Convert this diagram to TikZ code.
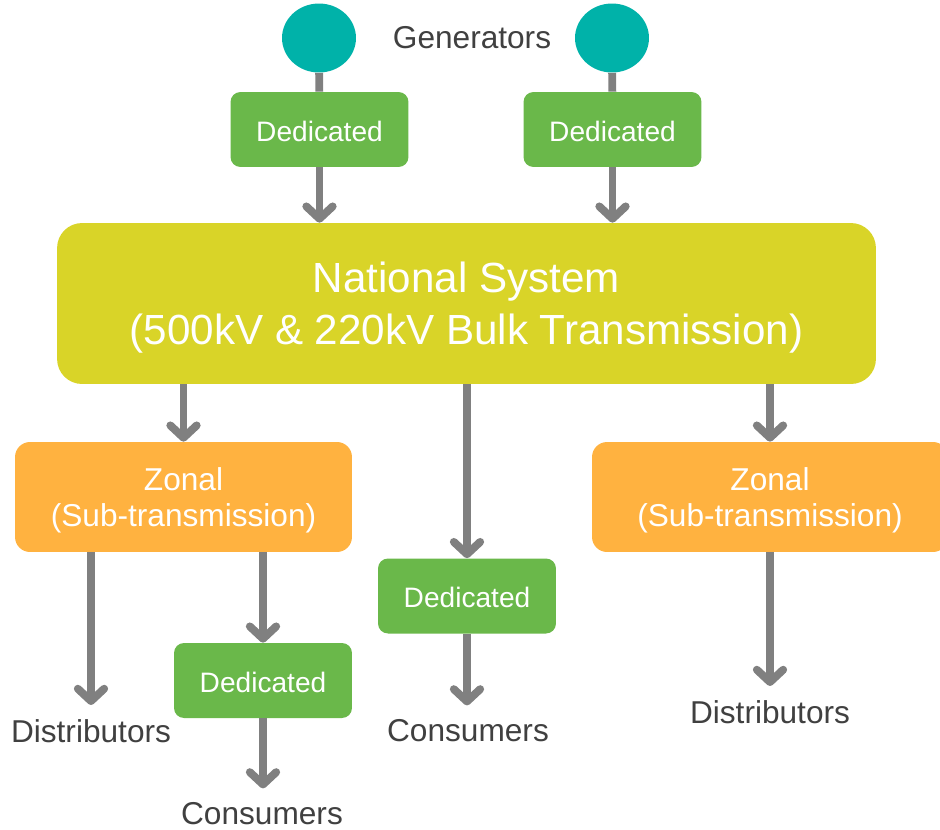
\documentclass[tikz,border=0pt]{standalone}
\usepackage{fontspec}
\setmainfont{Liberation Sans}
\usetikzlibrary{arrows.meta, shapes.geometric}

\definecolor{gencyan}{HTML}{00B2A9}
\definecolor{dedgreen}{HTML}{6AB84A}
\definecolor{natyellow}{HTML}{D9D428}
\definecolor{zoneorange}{HTML}{FFB240}
\definecolor{flowgray}{HTML}{808080}
\definecolor{labelgray}{HTML}{404040}

\tikzset{
  box/.style={rectangle, text=white, inner sep=0pt, align=center, text depth=0pt},
  dedbox/.style={box, fill=dedgreen, rounded corners=0.2cm, minimum width=3.56cm, minimum height=1.5cm, text height=13.4pt, font=\fontsize{16}{19}\selectfont},
  natbox/.style={box, fill=natyellow, rounded corners=0.5cm, minimum width=16.38cm, minimum height=3.22cm, font=\fontsize{24}{29.5}\selectfont},
  zonebox/.style={box, fill=zoneorange, rounded corners=0.3cm, minimum height=2.2cm, font=\fontsize{18}{21}\selectfont},
  gen/.style={ellipse, fill=gencyan, minimum width=1.48cm, minimum height=1.38cm, inner sep=0pt},
  lbl/.style={text=labelgray, inner sep=8pt, font=\fontsize{18}{21}\selectfont},
  link/.style={draw=flowgray, line width=4.5pt},
  flow/.style={link, -{Straight Barb[round, length=7pt, width=15pt]}}
}

\begin{document}
\begin{tikzpicture}[x=0.02cm, y=-0.02cm]
        \useasboundingbox (0,0) rectangle (940,829);
        % generators on top
        \node[gen] (gen1) at (319,38) {};
        \node[gen] (gen2) at (612,38) {};
        \node[lbl] (genlbl) at (472,38) {Generators};
        \node[dedbox] (ded1) at (319.5,129.5) {Dedicated};
        \node[dedbox] (ded2) at (612.5,129.5) {Dedicated};
        % bulk system
        \node[natbox] (natl) at (466.5,303.5) {National System\\(500kV \& 220kV Bulk Transmission)};
        % zonal and dedicated below
        \node[zonebox, minimum width=6.74cm] (zone1) at (183.5,497) {Zonal\\(Sub-transmission)};
        \node[zonebox, minimum width=7.12cm] (zone2) at (770,497) {Zonal\\(Sub-transmission)};
        \node[dedbox] (ded3) at (467,596) {Dedicated};
        \node[dedbox] (ded4) at (263,680.5) {Dedicated};
        % end users
        \node[lbl] (dist1) at (91,731) {Distributors};
        \node[lbl] (cons1) at (262,814) {Consumers};
        \node[lbl] (cons2) at (468,731) {Consumers};
        \node[lbl] (dist2) at (770,712) {Distributors};

        \draw[link] (gen1) -- (ded1);
        \draw[link] (gen2) -- (ded2);
        \draw[flow] (ded1) -- (ded1 |- natl.north);
        \draw[flow] (ded2) -- (ded2 |- natl.north);
        \draw[flow] (natl.south -| zone1) -- (zone1);
        \draw[flow] (natl.south -| ded3) -- (ded3);
        \draw[flow] (natl.south -| zone2) -- (zone2);
        \draw[flow] (zone1.south -| dist1) -- (dist1);
        \draw[flow] (zone1.south -| ded4) -- (ded4);
        \draw[flow] (ded4) -- (ded4 |- cons1.north);
        \draw[flow] (ded3) -- (ded3 |- cons2.north);
        \draw[flow] (zone2) -- (dist2);
\end{tikzpicture}
\end{document}
